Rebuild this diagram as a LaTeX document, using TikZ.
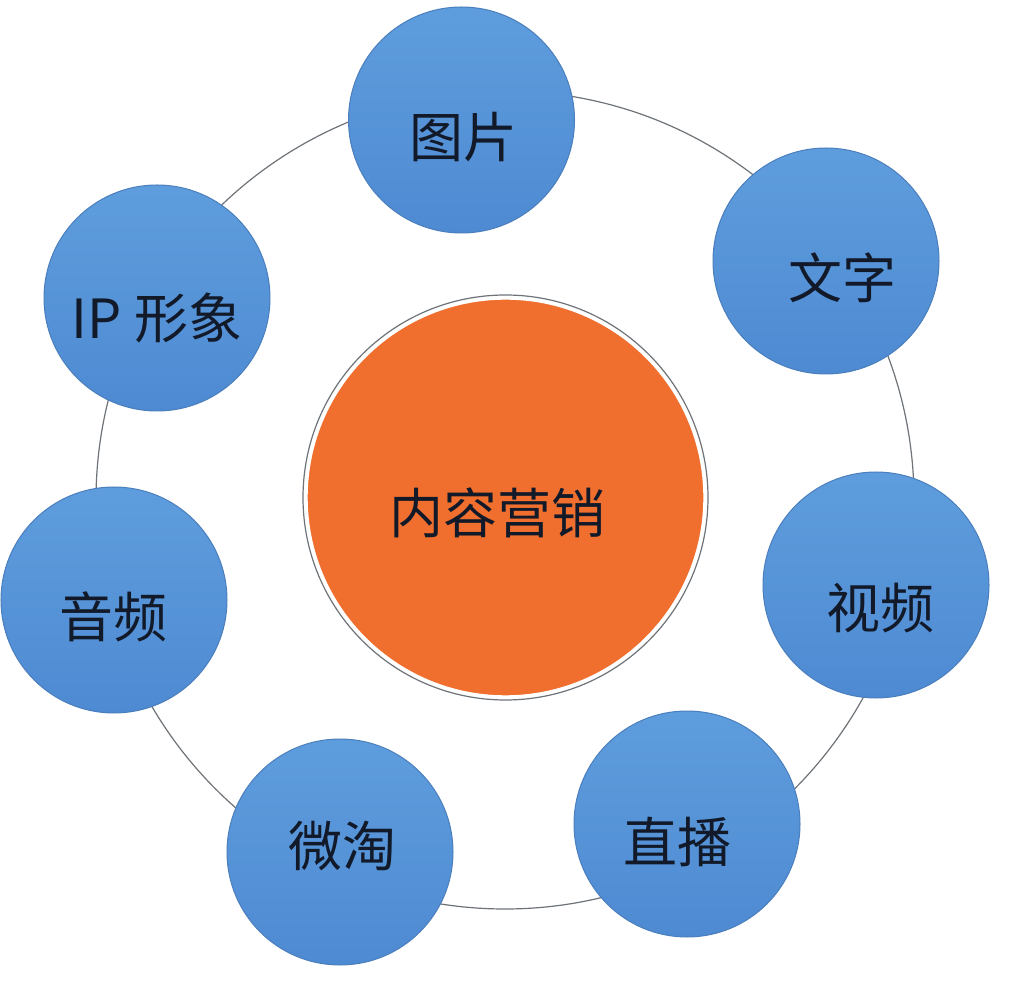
\documentclass[tikz,border=0pt]{standalone}
\usepackage{fontspec}
\newfontfamily\cjk{Noto Sans CJK SC}
\usepackage{xcolor}
\usepackage{tikz}
\usetikzlibrary{positioning}
\definecolor{bubbletop}{HTML}{5E9DDD}
\definecolor{bubblebot}{HTML}{4E8AD2}
\definecolor{bubbleedge}{HTML}{4A7EBC}
\definecolor{coreorange}{HTML}{F06F2E}
\definecolor{ringgray}{HTML}{6E7378}
\definecolor{inkdark}{HTML}{121A2A}

\begin{document}
\begin{tikzpicture}[x=0.5pt,y=0.5pt,
  bubble/.style={circle,inner sep=0pt,minimum size=113pt,top color=bubbletop,bottom color=bubblebot,draw=bubbleedge,line width=0.5pt},
  core/.style={circle,inner sep=0pt,minimum size=199pt,fill=coreorange,draw=white,line width=1.2pt},
  word/.style={inner sep=0pt,text=inkdark,font=\cjk\fontsize{27pt}{30pt}\selectfont},
  ringline/.style={ringgray,line width=0.6pt}]
\fill[white](0,0)rectangle(1011,991);
\useasboundingbox(0,0)rectangle(1011,991);
\coordinate (hub) at (505,491);
\draw[ringline](hub)circle[radius=409];
\node[core] (center) at (505.5,493.5) {};
\draw[ringline](center)circle[radius=202.5];
\node[word] (centertxt) at ([shift={(-8.5,-15.5)}]center) {内容营销};
\node[bubble] (pic) at (461.5,871) {};
\node[bubble] (txt) at (826,730) {};
\node[bubble] (ip) at (157,693) {};
\node[bubble] (video) at (876,406) {};
\node[bubble] (audio) at (114,391) {};
\node[bubble] (live) at (687,167) {};
\node[bubble] (weitao) at (340,139) {};
\node[word] (pictxt) at ([shift={(1.5,-17)}]pic) {图片};
\node[word] (txttxt) at ([shift={(16,-17)}]txt) {文字};
\node[word] (iptxt) at ([shift={(0,-20)}]ip) {IP 形象};
\node[word] (videotxt) at ([shift={(4,-23)}]video) {视频};
\node[word] (audiotxt) at ([shift={(-1,-17)}]audio) {音频};
\node[word] (livetxt) at ([shift={(-10,-18)}]live) {直播};
\node[word] (weitaotxt) at ([shift={(2,6)}]weitao) {微淘};
\end{tikzpicture}
\end{document}
